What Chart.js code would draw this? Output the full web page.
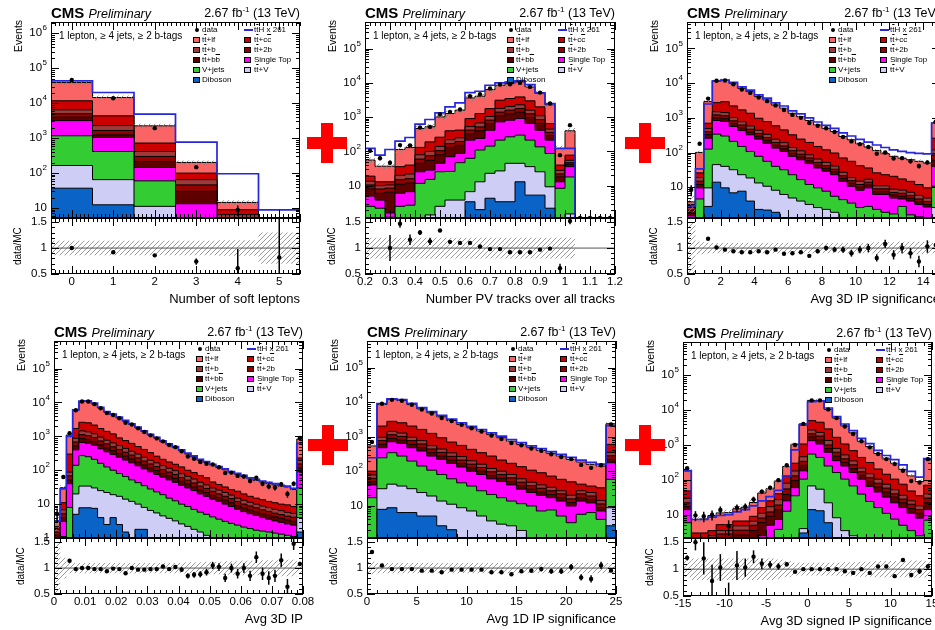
<!DOCTYPE html>
<html>
<head>
<meta charset="utf-8">
<script src="https://cdn.jsdelivr.net/npm/chart.js@4.4.1/dist/chart.umd.min.js"></script>
<style>
  html, body { margin: 0; padding: 0; background: #fff; width: 935px; height: 630px; overflow: hidden; }
  body { position: relative; font-family: "Liberation Sans", Arial, Helvetica, sans-serif; }
  canvas { position: absolute; display: block; }
  .t { position: absolute; white-space: nowrap; color: #000; line-height: 1; }
  .cms { font-weight: bold; font-size: 15px; }
  .pre { font-style: italic; font-size: 12.5px; }
  .sup { font-size: 8px; position: relative; top: -5px; }
  .ov { text-decoration: overline; }
  .vt { writing-mode: vertical-rl; transform: rotate(180deg); }
  .plus { position: absolute; background: #ff0000; }
  .leg { position: absolute; font-size: 8px; line-height: 8px; white-space: nowrap; }
  .box { position: absolute; width: 7px; height: 6px; border: 1px solid #000; box-sizing: border-box; }
</style>
</head>
<body>
<script>
// Values. Each stack array is the top edge of that
// layer in the stack (Diboson at the bottom, tt+lf on top), as drawn.

// --- Number of soft leptons ---
const softBins = [0, 1, 2, 3, 4, 5];
const softTicks = [0, 1, 2, 3, 4, 5];
const softDiboson = [37, 12.4, 1, 0, 0, 0];
const softTtV = [165, 65, 11.2, 1, 0, 0];
const softVjets = [1170, 415, 60, 3, 0, 0];
const softSingleTop = [3170, 1050, 145, 13.3, 1, 0];
const softTtbb = [3980, 1245, 215, 30, 2, 0.3];
const softTt2b = [5000, 1660, 300, 46, 3.5, 0.6];
const softTtb = [6450, 2290, 415, 65, 6.5, 1];
const softTtcc = [11700, 4350, 725, 100, 9, 2];
const softTtlf = [38900, 14500, 2250, 202, 14.5, 4];
const softTth = [43400, 20200, 4850, 770, 96, 8.9];
const softData = [46000, 13800, 1930, 148, 8.9, 2.4];
const softDataErr = [214, 117, 44, 12, 3, 1.5];
const softRatio = [1.0, 0.92, 0.86, 0.74, 0.61, 0.82];
const softRatioErr = [0.01, 0.015, 0.025, 0.06, 0.37, 0.8];
const softBand = [0.14, 0.14, 0.14, 0.14, 0.15, 0.3];

// --- Number PV tracks over all tracks ---
const pvBins = [0.22, 0.26, 0.30, 0.34, 0.38, 0.42, 0.46, 0.50, 0.54, 0.58, 0.62, 0.66, 0.70, 0.74, 0.78, 0.82, 0.86, 0.90, 0.94, 0.98, 1.02, 1.06, 1.10, 1.14, 1.18];
const pvTicks = [0.2, 0.3, 0.4, 0.5, 0.6, 0.7, 0.8, 0.9, 1, 1.1, 1.2];
const pvDiboson = [0, 0, 0, 0, 0, 0, 0, 0, 0, 0, 3.4, 2, 4.3, 3.4, 3.4, 13, 5.3, 5.3, 2.2, 0, 0, 0, 0, 0, 0];
const pvTtV = [0, 0, 0, 0, 0, 1.1, 1.4, 2.5, 3.8, 3.8, 6.7, 13, 23, 27, 45, 45, 36, 25.5, 9.3, 0, 1.5, 0, 0, 0, 0];
const pvVjets = [2.5, 2.2, 1.2, 2.5, 2.7, 11.7, 15.3, 25.5, 26, 47, 63, 110, 143, 214, 267, 300, 214, 136, 87, 8.4, 18, 0, 0, 0, 0];
const pvSingleTop = [5, 3.8, 1.6, 6, 6.7, 25.5, 28.6, 45, 70, 87, 214, 240, 417, 730, 820, 915, 655, 417, 214, 13, 36, 0, 0, 0, 0];
const pvTtbb = [8, 6, 6.5, 11, 12, 45, 55, 80, 130, 150, 330, 400, 650, 1100, 1250, 1400, 980, 650, 290, 18, 42, 0, 0, 0, 0];
const pvTt2b = [10.5, 8, 8.5, 15, 16, 60, 75, 105, 170, 195, 420, 520, 820, 1400, 1600, 1780, 1250, 850, 360, 22, 47, 0, 0, 0, 0];
const pvTtb = [13.5, 10, 10.5, 20, 22, 80, 100, 140, 220, 250, 530, 680, 1050, 1800, 2050, 2300, 1600, 1100, 450, 28, 55, 0, 0, 0, 0];
const pvTtcc = [19, 13, 13, 36, 40, 131, 190, 260, 400, 420, 910, 1280, 1780, 3130, 3500, 3900, 3000, 2000, 655, 40, 78, 0, 0, 0, 0];
const pvTtlf = [56, 37, 37, 114, 131, 468, 525, 1020, 1280, 1600, 3650, 4090, 6400, 8550, 9550, 10700, 7600, 5000, 2300, 122, 400, 0, 0, 0, 0];
const pvTth = [122, 78, 114, 200, 255, 625, 855, 1340, 2000, 2610, 5220, 5720, 8550, 10000, 10500, 11500, 8900, 5130, 2500, 122, 122, 0, 0, 0, 0];
const pvData = [105, 63, 47, 153, 150, 500, 520, 1220, 1430, 1670, 4090, 4680, 6840, 9000, 9100, 10000, 7640, 5220, 2500, 78, 585, 0, 0, 0, 0];
const pvDataErr = [10, 8, 7, 12, 12, 22, 23, 35, 38, 41, 64, 68, 83, 95, 95, 100, 87, 72, 50, 9, 24, 0, 0, 0, 0];
const pvRatio = [1.9, 1.7, 1.0, 1.47, 1.16, 1.3, 1.13, 1.34, 1.12, 1.1, 1.1, 1.03, 0.98, 0.98, 0.92, 0.92, 0.92, 0.97, 0.99, 0.61, 1.52, null, null, null, null];
const pvRatioErr = [0.25, 0.1, 0.25, 0.08, 0.1, 0.05, 0.07, 0.03, 0.03, 0.03, 0.02, 0.02, 0.015, 0.012, 0.01, 0.01, 0.012, 0.015, 0.02, 0.09, 0.06, 0, 0, 0, 0];
const pvBand = [0.2, 0.2, 0.2, 0.2, 0.2, 0.2, 0.2, 0.2, 0.2, 0.2, 0.2, 0.2, 0.2, 0.2, 0.2, 0.2, 0.2, 0.2, 0.2, 0.2, 0.2, 0, 0, 0, 0];

// --- Avg 3D IP significance ---
const sig3Bins = [0.25, 0.75, 1.25, 1.75, 2.25, 2.75, 3.25, 3.75, 4.25, 4.75, 5.25, 5.75, 6.25, 6.75, 7.25, 7.75, 8.25, 8.75, 9.25, 9.75, 10.25, 10.75, 11.25, 11.75, 12.25, 12.75, 13.25, 13.75, 14.25, 14.75];
const sig3Ticks = [0, 2, 4, 6, 8, 10, 12, 14];
const sig3Diboson = [0, 0, 2.8, 14, 9.6, 6.9, 7.7, 4, 2.3, 2.2, 1.9, 0, 0, 0, 0, 0, 0, 0, 0, 0, 0, 0, 0, 0, 0, 0, 0, 0, 0, 0.8];
const sig3TtV = [0, 0, 9.6, 45, 40, 32, 23, 18.5, 13.3, 10.7, 8.2, 6.2, 4.9, 4, 3.2, 2.6, 2.3, 1.9, 0, 0, 0, 0, 0, 0, 0, 0, 0, 0, 0, 2.6];
const sig3Vjets = [0.8, 4.6, 126, 340, 300, 210, 150, 107, 78, 56, 40, 32, 23, 16.6, 12, 9.6, 7.7, 5.5, 4.4, 3.5, 2.6, 2.8, 2.3, 1.9, 1.7, 2.8, 1.6, 1.4, 1.3, 10.7];
const sig3SingleTop = [1.5, 9.6, 260, 840, 790, 565, 430, 325, 245, 186, 135, 107, 78, 62, 48, 36, 29, 23, 14.8, 10.7, 8.2, 9.6, 6.2, 6.2, 4.9, 4.6, 4, 3.2, 2.7, 40];
const sig3Ttbb = [1.8, 12, 330, 1000, 950, 680, 520, 390, 295, 225, 162, 128, 94, 74, 58, 43, 35, 28, 18, 13, 10, 11.5, 7.5, 7.5, 6, 5.5, 4.8, 3.8, 3.2, 60];
const sig3Tt2b = [2.2, 15, 400, 1220, 1150, 820, 620, 470, 355, 270, 196, 155, 113, 90, 70, 52, 42, 33, 21.5, 15.5, 12, 14, 9, 9, 7.1, 6.7, 5.8, 4.6, 3.9, 85];
const sig3Ttb = [2.6, 19, 490, 1500, 1420, 1020, 775, 585, 440, 335, 243, 193, 140, 112, 86, 65, 52, 41, 27, 19, 15, 17, 11, 11, 8.8, 8.3, 7.2, 5.8, 4.9, 120];
const sig3Ttcc = [3.2, 26, 700, 2750, 2940, 2210, 1700, 1360, 975, 785, 590, 450, 325, 245, 196, 150, 120, 97, 70, 56, 42, 36, 26, 23, 20.7, 17.4, 14.8, 12, 9.6, 260];
const sig3Ttlf = [3.8, 101, 2940, 11800, 12300, 9890, 7100, 5700, 4100, 3290, 2360, 1900, 1360, 1090, 840, 630, 500, 405, 290, 234, 180, 145, 115, 93, 78, 69, 62, 56, 50, 735];
const sig3Tth = [2.9, 34, 2510, 11500, 12300, 10500, 7800, 6300, 4600, 3700, 2700, 2200, 1600, 1300, 1000, 760, 610, 500, 370, 300, 240, 200, 165, 140, 120, 108, 100, 95, 92, 700];
const sig3Data = [8.5, 180, 3590, 11800, 12000, 9300, 6550, 5250, 3850, 3030, 2290, 1690, 1220, 1000, 715, 590, 500, 393, 280, 210, 175, 145, 93, 100, 68, 69, 56, 41, 52, 780];
const sig3DataErr = [3, 13, 60, 109, 110, 96, 81, 72, 62, 55, 48, 41, 35, 32, 27, 24, 22, 20, 17, 14.5, 13, 12, 9.6, 10, 8.2, 8.3, 7.5, 6.4, 7.2, 28];
const sig3Ratio = [2.2, 1.78, 1.18, 1.01, 0.97, 0.94, 0.92, 0.92, 0.94, 0.92, 0.97, 0.89, 0.9, 0.92, 0.85, 0.94, 1.0, 0.97, 0.97, 0.9, 0.97, 1.0, 0.81, 1.08, 0.87, 1.0, 0.9, 0.74, 1.03, 1.06];
const sig3RatioErr = [0.3, 0.1, 0.02, 0.01, 0.01, 0.01, 0.01, 0.015, 0.015, 0.02, 0.02, 0.025, 0.03, 0.03, 0.035, 0.04, 0.045, 0.05, 0.06, 0.065, 0.07, 0.08, 0.07, 0.08, 0.09, 0.1, 0.1, 0.11, 0.12, 0.04];
const sig3Band = [0.5, 0.12, 0.1, 0.1, 0.1, 0.1, 0.1, 0.1, 0.1, 0.1, 0.1, 0.1, 0.1, 0.1, 0.1, 0.1, 0.1, 0.1, 0.1, 0.1, 0.1, 0.1, 0.11, 0.11, 0.11, 0.12, 0.12, 0.12, 0.12, 0.1];

// --- Avg 3D IP ---
const ip3Bins = [0.001, 0.003, 0.005, 0.007, 0.009, 0.011, 0.013, 0.015, 0.017, 0.019, 0.021, 0.023, 0.025, 0.027, 0.029, 0.031, 0.033, 0.035, 0.037, 0.039, 0.041, 0.043, 0.045, 0.047, 0.049, 0.051, 0.053, 0.055, 0.057, 0.059, 0.061, 0.063, 0.065, 0.067, 0.069, 0.071, 0.073, 0.075, 0.077, 0.079];
const ip3Ticks = [0, 0.01, 0.02, 0.03, 0.04, 0.05, 0.06, 0.07, 0.08];
const ip3Diboson = [0, 0, 0, 5, 7.8, 7.8, 7.5, 4, 2.5, 4, 2.5, 1.5, 0, 1.8, 1.8, 0, 0, 0, 0, 0, 0, 0, 0, 0, 0, 0, 0, 0, 0, 0, 0, 0, 0, 0, 0, 0, 0, 0, 0, 1.5];
const ip3TtV = [0, 0, 0, 20, 34, 34, 30, 25, 22, 19, 17, 14, 12, 10, 8, 6.5, 5.5, 4.5, 3.8, 3.2, 2.6, 2.2, 1.8, 1.5, 1.2, 0, 0, 0, 0, 0, 0, 0, 0, 0, 0, 0, 0, 0, 0, 4];
const ip3Vjets = [0.5, 1.1, 8, 140, 270, 250, 210, 160, 125, 100, 80, 65, 52, 43, 35, 28, 23, 19, 15, 12.5, 10, 8.5, 7, 5.8, 5, 4.2, 3.6, 3.1, 2.7, 2.4, 2.1, 1.9, 1.7, 1.6, 1.5, 1.4, 1.3, 1.2, 1.1, 30];
const ip3SingleTop = [1, 3.1, 40, 400, 660, 620, 540, 430, 350, 290, 240, 200, 165, 135, 110, 90, 75, 62, 52, 44, 36, 30, 25, 20, 17, 14, 12, 10, 8.5, 7, 6, 5.2, 4.6, 4, 3.6, 3.2, 2.9, 2.6, 2.4, 90];
const ip3Ttbb = [1.2, 4, 52, 520, 860, 800, 700, 560, 455, 380, 310, 260, 215, 175, 143, 117, 98, 80, 68, 57, 47, 39, 32, 26, 22, 18, 15.6, 13, 11, 9, 7.8, 6.8, 6, 5.2, 4.7, 4.2, 3.8, 3.4, 3.1, 117];
const ip3Tt2b = [1.5, 5.2, 68, 680, 1120, 1050, 920, 730, 600, 490, 410, 340, 280, 230, 187, 153, 128, 105, 88, 75, 61, 51, 42, 34, 29, 24, 20, 17, 14.5, 12, 10, 8.8, 7.8, 6.8, 6.1, 5.4, 4.9, 4.4, 4.1, 153];
const ip3Ttb = [1.8, 6.8, 88, 880, 1450, 1360, 1190, 950, 770, 640, 530, 440, 360, 300, 240, 198, 165, 136, 114, 97, 79, 66, 55, 44, 37, 30, 26, 22, 18.5, 15, 13, 11.4, 10, 8.8, 7.9, 7, 6.4, 5.7, 5.3, 198];
const ip3Ttcc = [2.2, 11, 300, 1700, 2600, 2500, 2150, 1700, 1400, 1180, 900, 750, 620, 500, 410, 330, 260, 210, 175, 150, 125, 100, 85, 70, 60, 45, 38, 32, 27, 24, 20, 17, 15, 13.5, 12, 11, 10, 9.5, 8.5, 230];
const ip3Ttlf = [3.1, 30.5, 1090, 6000, 10700, 10700, 9100, 6900, 5150, 4300, 3500, 2800, 2230, 1770, 1380, 1090, 890, 690, 565, 470, 375, 300, 250, 198, 169, 141, 120, 103, 85, 76, 65, 56, 50, 45, 41, 37, 34, 32, 27, 830];
const ip3Tth = [3.2, 28, 1000, 6000, 11000, 11200, 9500, 7200, 5400, 4500, 3700, 2950, 2350, 1860, 1450, 1150, 940, 730, 600, 500, 400, 320, 265, 210, 180, 150, 128, 110, 91, 81, 70, 60, 54, 48, 44, 40, 36, 34, 29, 620];
const ip3Data = [5.1, 63, 1240, 5880, 10700, 10700, 8900, 6760, 4840, 4260, 3430, 2520, 2230, 1720, 1340, 1070, 870, 710, 554, 480, 364, 255, 218, 174, 155, 148, 122, 83, 85, 68, 65, 48, 60, 40, 33, 31, 39, 20, 40, 900];
const ip3DataErr = [2.3, 8, 35, 77, 103, 103, 94, 82, 70, 65, 59, 50, 47, 41, 37, 33, 29.5, 26.6, 23.5, 21.9, 19, 16, 14.8, 13.2, 12.4, 12.2, 11, 9.1, 9.2, 8.2, 8.1, 6.9, 7.7, 6.3, 5.7, 5.6, 6.2, 4.5, 6.3, 30];
const ip3Ratio = [1.65, 2.06, 1.14, 0.98, 1.0, 1.0, 0.98, 0.98, 0.94, 0.99, 0.98, 0.9, 1.0, 0.97, 0.97, 0.98, 0.98, 1.03, 0.98, 1.02, 0.97, 0.85, 0.87, 0.88, 0.92, 1.05, 1.02, 0.81, 1.0, 0.89, 1.0, 0.85, 1.21, 0.89, 0.81, 0.85, 1.15, 0.64, 1.47, 1.08];
const ip3RatioErr = [0.05, 0.15, 0.03, 0.012, 0.01, 0.01, 0.01, 0.012, 0.014, 0.015, 0.016, 0.018, 0.02, 0.022, 0.025, 0.027, 0.03, 0.033, 0.037, 0.04, 0.045, 0.05, 0.055, 0.06, 0.065, 0.07, 0.075, 0.08, 0.085, 0.09, 0.095, 0.1, 0.11, 0.12, 0.13, 0.12, 0.13, 0.15, 0.12, 0.04];
const ip3Band = [0.5, 0.2, 0.1, 0.1, 0.1, 0.1, 0.1, 0.1, 0.1, 0.1, 0.1, 0.1, 0.1, 0.1, 0.1, 0.1, 0.1, 0.1, 0.1, 0.1, 0.1, 0.11, 0.11, 0.11, 0.12, 0.12, 0.12, 0.13, 0.13, 0.13, 0.14, 0.14, 0.14, 0.15, 0.15, 0.15, 0.16, 0.16, 0.16, 0.1];

// --- Avg 1D IP significance ---
const sig1Bins = [0.5, 1.5, 2.5, 3.5, 4.5, 5.5, 6.5, 7.5, 8.5, 9.5, 10.5, 11.5, 12.5, 13.5, 14.5, 15.5, 16.5, 17.5, 18.5, 19.5, 20.5, 21.5, 22.5, 23.5, 24.5];
const sig1Ticks = [0, 5, 10, 15, 20, 25];
const sig1Diboson = [0, 7.8, 8.7, 6.3, 6.3, 5, 5, 2.6, 2, 0, 0, 0, 0, 0, 0, 0, 0, 0, 0, 0, 0, 0, 0, 0, 2.6];
const sig1TtV = [0, 31, 42, 37, 31, 24, 19, 13.6, 11, 8.7, 7, 5, 3.6, 2.9, 2.6, 1.9, 0, 0, 0, 0, 0, 0, 0, 0, 8.7];
const sig1Vjets = [17, 245, 344, 275, 197, 141, 107, 80, 60, 46, 37, 27, 21, 17, 13.6, 11.4, 9.8, 7, 7.5, 5, 3.2, 5.6, 6.3, 4, 58];
const sig1SingleTop = [40, 480, 715, 640, 480, 385, 275, 220, 169, 132, 100, 80, 60, 50, 40, 30, 24, 20, 17, 13.6, 9.8, 13.6, 12, 7, 176];
const sig1Ttbb = [50, 600, 890, 800, 600, 480, 345, 275, 210, 165, 125, 100, 75, 62, 50, 38, 30, 25, 21, 17, 12.3, 17, 15, 8.8, 220];
const sig1Tt2b = [62, 770, 1140, 1020, 770, 615, 440, 350, 270, 210, 160, 128, 96, 80, 64, 48, 38, 32, 27, 22, 15.7, 22, 19, 11.2, 280];
const sig1Ttb = [78, 960, 1430, 1280, 960, 770, 550, 440, 340, 265, 200, 160, 120, 100, 80, 60, 48, 40, 34, 27, 20, 27, 24, 14, 350];
const sig1Ttcc = [100, 2040, 2800, 2540, 2040, 1630, 1250, 935, 700, 560, 430, 344, 275, 210, 169, 135, 107, 90, 72, 58, 49, 42, 37, 33, 600];
const sig1Ttlf = [540, 8650, 12000, 11300, 8650, 6460, 4960, 3800, 2960, 2280, 1820, 1460, 1170, 935, 745, 600, 480, 400, 330, 275, 220, 185, 158, 141, 2380];
const sig1Tth = [245, 9200, 12600, 12000, 9300, 7000, 5400, 4150, 3250, 2520, 2000, 1620, 1300, 1040, 830, 670, 540, 450, 370, 310, 250, 210, 180, 160, 2100];
const sig1Data = [700, 9080, 11760, 11070, 8480, 6140, 4710, 3500, 2870, 2210, 1770, 1420, 1080, 860, 655, 564, 456, 392, 310, 258, 224, 152, 125, 148, 2260];
const sig1DataErr = [26, 95, 108, 105, 92, 78, 69, 59, 54, 47, 42, 38, 33, 29, 26, 24, 21, 20, 18, 16, 15, 12, 11, 12, 48];
const sig1Ratio = [1.31, 1.05, 0.98, 0.98, 0.98, 0.95, 0.95, 0.92, 0.97, 0.97, 0.97, 0.97, 0.92, 0.92, 0.88, 0.94, 0.95, 0.98, 0.94, 0.94, 1.02, 0.82, 0.79, 1.05, 0.95];
const sig1RatioErr = [0.04, 0.01, 0.01, 0.01, 0.01, 0.01, 0.012, 0.015, 0.015, 0.018, 0.02, 0.022, 0.025, 0.028, 0.03, 0.035, 0.04, 0.045, 0.05, 0.055, 0.06, 0.06, 0.07, 0.07, 0.02];
const sig1Band = [0.12, 0.1, 0.1, 0.1, 0.1, 0.1, 0.1, 0.1, 0.1, 0.1, 0.1, 0.1, 0.1, 0.1, 0.1, 0.1, 0.1, 0.1, 0.1, 0.1, 0.1, 0.1, 0.1, 0.1, 0.1];

// --- Avg 3D signed IP significance ---
const ssigBins = [-14.5, -13.5, -12.5, -11.5, -10.5, -9.5, -8.5, -7.5, -6.5, -5.5, -4.5, -3.5, -2.5, -1.5, -0.5, 0.5, 1.5, 2.5, 3.5, 4.5, 5.5, 6.5, 7.5, 8.5, 9.5, 10.5, 11.5, 12.5, 13.5, 14.5];
const ssigTicks = [-15, -10, -5, 0, 5, 10, 15];
const ssigDiboson = [0, 0, 0, 0, 0, 0, 0, 0, 0, 0, 0, 0, 0, 0, 3, 14, 13, 5.9, 0, 0, 0, 0, 0, 0, 0, 0, 0, 0, 0, 0];
const ssigTtV = [0, 0, 0, 0, 0, 0, 0, 0, 0, 0, 0, 0, 0, 2.2, 4, 67, 54, 22, 8.2, 3.5, 2.5, 0, 0, 0, 0, 0, 0, 0, 0, 0];
const ssigVjets = [5.9, 0.3, 0.2, 0.2, 0.3, 0.3, 0.4, 0.4, 0.6, 1, 2, 3.8, 12.6, 35, 105, 550, 440, 250, 162, 105, 67, 39, 24, 16, 11, 7.5, 5, 3.5, 2.5, 7];
const ssigSingleTop = [14, 0.5, 0.4, 0.5, 0.8, 0.8, 1, 1, 1.5, 2.5, 5, 7.3, 25, 60, 182, 1330, 1070, 620, 355, 250, 162, 105, 65, 45, 32, 22, 16, 11, 8, 14];
const ssigTtbb = [17, 1.4, 1.2, 1.5, 2.2, 2.2, 2.6, 2.6, 3.5, 6, 9, 14, 38, 95, 260, 1700, 1400, 800, 480, 320, 210, 135, 90, 62, 45, 32, 22, 15, 11, 22];
const ssigTt2b = [22, 1.8, 1.6, 2, 2.8, 2.8, 3.6, 3.6, 5, 8, 12, 19, 55, 130, 340, 2100, 1800, 1000, 620, 400, 270, 170, 115, 80, 58, 40, 28, 20, 14, 30];
const ssigTtb = [30, 2.2, 2, 2.5, 3.5, 3.5, 4.8, 4.8, 6.5, 11, 17, 27, 80, 180, 460, 2700, 2300, 1350, 800, 520, 350, 220, 150, 105, 75, 52, 36, 25, 18, 40];
const ssigTtcc = [48, 3, 3, 3.5, 5.2, 5.2, 6.6, 6.6, 9, 16, 25, 40, 130, 300, 1070, 5000, 4500, 2900, 1660, 1070, 690, 440, 315, 205, 145, 105, 75, 48, 35, 70];
const ssigTtlf = [180, 7.3, 7.6, 9.5, 11.3, 11.5, 14.8, 16.5, 22.4, 42, 55.6, 93, 241, 1050, 4040, 19000, 19000, 10500, 5900, 3530, 2230, 1280, 900, 570, 400, 300, 200, 130, 90, 375];
const ssigTth = [185, 7.3, 7.3, 8.5, 9.5, 10, 12, 14, 18, 25, 33, 50, 130, 720, 3700, 17500, 18500, 11500, 6500, 4000, 2600, 1550, 1100, 700, 500, 380, 270, 175, 120, 410];
const ssigData = [217, 9.6, 9.1, 10, 13.6, 4.7, 15.8, 17, 27.6, 46, 60, 98, 263, 1000, 4040, 19000, 19000, 10500, 5900, 3390, 2070, 1280, 857, 550, 394, 283, 182, 93, 84, 394];
const ssigDataErr = [15, 3.1, 3, 3.2, 3.7, 2.2, 4, 4.1, 5.3, 6.8, 7.7, 10, 16, 32, 64, 138, 138, 102, 77, 58, 45, 36, 29, 23, 20, 17, 13.5, 9.6, 9.2, 20];
const ssigRatio = [1.21, 1.5, 1.2, 0.78, 1.03, 0.45, 1.07, 1.03, 1.23, 1.1, 1.08, 1.05, 1.09, 0.95, 1.0, 1.0, 1.0, 1.0, 1.0, 0.96, 0.93, 1.0, 0.93, 1.05, 1.05, 0.87, 1.17, 0.89, 0.96, 1.05];
const ssigRatioErr = [0.05, 0.15, 0.3, 0.3, 0.25, 0.3, 0.27, 0.17, 0.12, 0.1, 0.07, 0.06, 0.04, 0.02, 0.01, 0.01, 0.01, 0.01, 0.01, 0.015, 0.02, 0.02, 0.025, 0.025, 0.03, 0.03, 0.035, 0.04, 0.05, 0.04];
const ssigBand = [0.15, 0.2, 0.2, 0.2, 0.2, 0.2, 0.2, 0.2, 0.2, 0.2, 0.2, 0.18, 0.15, 0.12, 0.12, 0.12, 0.12, 0.12, 0.12, 0.13, 0.13, 0.14, 0.14, 0.15, 0.15, 0.15, 0.15, 0.16, 0.16, 0.15];

const logTicks = [1, 10, 100, 1e3, 1e4, 1e5, 1e6];
const ratioTicks = [0.5, 1, 1.5];

// ---- styling and layout ----
const FONT = '"Liberation Sans", Arial, Helvetica, sans-serif';
Chart.defaults.font.family = FONT;

// bottom -> top of the stack
const layerColours = ['#0a64c8', '#cdcdf5', '#33cc33', '#ff00ff', '#5e0000', '#950000', '#a03a3a', '#cc0000', '#fa6464'];

const panels = [
  { L: 51, R: 300, T: 22, M: 218, B: 274, xmin: -0.5, xmax: 5.5, minorDiv: 10, ymin: 5.2, ymax: 2.1e6,
    title: 'Number of soft leptons', bins: softBins, ticks: softTicks,
    stack: [softDiboson, softTtV, softVjets, softSingleTop, softTtbb, softTt2b, softTtb, softTtcc, softTtlf],
    tth: softTth, data: softData, dataErr: softDataErr, ratio: softRatio, err: softRatioErr, band: softBand },
  { L: 365, R: 615, T: 22, M: 218, B: 274, xmin: 0.2, xmax: 1.2, minorDiv: 5, ymin: 1.14, ymax: 6e5,
    title: 'Number PV tracks over all tracks', bins: pvBins, ticks: pvTicks,
    stack: [pvDiboson, pvTtV, pvVjets, pvSingleTop, pvTtbb, pvTt2b, pvTtb, pvTtcc, pvTtlf],
    tth: pvTth, data: pvData, dataErr: pvDataErr, ratio: pvRatio, err: pvRatioErr, band: pvBand },
  { L: 687, R: 940, T: 22, M: 218, B: 274, xmin: 0, xmax: 15, minorDiv: 4, ymin: 1.3, ymax: 5.8e5,
    title: 'Avg 3D IP significance', bins: sig3Bins, ticks: sig3Ticks,
    stack: [sig3Diboson, sig3TtV, sig3Vjets, sig3SingleTop, sig3Ttbb, sig3Tt2b, sig3Ttb, sig3Ttcc, sig3Ttlf],
    tth: sig3Tth, data: sig3Data, dataErr: sig3DataErr, ratio: sig3Ratio, err: sig3RatioErr, band: sig3Band },
  { L: 54, R: 303, T: 341, M: 538, B: 594, xmin: 0, xmax: 0.08, minorDiv: 5, ymin: 1, ymax: 6.5e5,
    title: 'Avg 3D IP', bins: ip3Bins, ticks: ip3Ticks,
    stack: [ip3Diboson, ip3TtV, ip3Vjets, ip3SingleTop, ip3Ttbb, ip3Tt2b, ip3Ttb, ip3Ttcc, ip3Ttlf],
    tth: ip3Tth, data: ip3Data, dataErr: ip3DataErr, ratio: ip3Ratio, err: ip3RatioErr, band: ip3Band },
  { L: 367, R: 616, T: 341, M: 538, B: 594, xmin: 0, xmax: 25, minorDiv: 5, ymin: 1.15, ymax: 6e5,
    title: 'Avg 1D IP significance', bins: sig1Bins, ticks: sig1Ticks,
    stack: [sig1Diboson, sig1TtV, sig1Vjets, sig1SingleTop, sig1Ttbb, sig1Tt2b, sig1Ttb, sig1Ttcc, sig1Ttlf],
    tth: sig1Tth, data: sig1Data, dataErr: sig1DataErr, ratio: sig1Ratio, err: sig1RatioErr, band: sig1Band },
  { L: 683, R: 932, T: 342, M: 538, B: 596, xmin: -15, xmax: 15, minorDiv: 5, ymin: 2.15, ymax: 9e5,
    title: 'Avg 3D signed IP significance', bins: ssigBins, ticks: ssigTicks,
    stack: [ssigDiboson, ssigTtV, ssigVjets, ssigSingleTop, ssigTtbb, ssigTt2b, ssigTtb, ssigTtcc, ssigTtlf],
    tth: ssigTth, data: ssigData, dataErr: ssigDataErr, ratio: ssigRatio, err: ssigRatioErr, band: ssigBand }
];

const PL = 50, PR = 14;

// grey "////" hatching for the MC uncertainty band
const hatch = (function () {
  const c = document.createElement('canvas');
  c.width = 5; c.height = 5;
  const g = c.getContext('2d');
  g.strokeStyle = '#808080';
  g.lineWidth = 0.8;
  g.beginPath();
  g.moveTo(0, 5); g.lineTo(5, 0);
  g.moveTo(-2.5, 2.5); g.lineTo(2.5, -2.5);
  g.moveTo(2.5, 7.5); g.lineTo(7.5, 2.5);
  g.stroke();
  return g.createPattern(c, 'repeat');
})();

// histogram outline: one point per left bin edge plus the last right edge
function stepPoints(bins, vals, floor) {
  const w = bins[1] - bins[0];
  const pts = bins.map((c, i) => ({ x: c - w / 2, y: vals[i] > 0 ? vals[i] : floor }));
  pts.push({ x: bins[bins.length - 1] + w / 2, y: pts[pts.length - 1].y });
  return pts;
}

function xMarks(p) {
  const t0 = p.ticks[0], step = (p.ticks[1] - p.ticks[0]) / p.minorDiv;
  const out = [];
  for (let k = Math.ceil((p.xmin - t0) / step - 1e-6); t0 + k * step <= p.xmax + 1e-9; k++) {
    out.push({ v: t0 + k * step, major: k % p.minorDiv === 0 });
  }
  return out;
}

function logMarks(lo, hi) {
  const out = [];
  for (let e = Math.floor(Math.log10(lo)); e <= Math.ceil(Math.log10(hi)); e++) {
    for (let k = 1; k < 10; k++) {
      const v = k * Math.pow(10, e);
      if (v >= lo * 0.999 && v <= hi) out.push({ v: v, major: k === 1 });
    }
  }
  return out;
}

const ratioMarks = [];
for (let k = 5; k <= 15; k++) ratioMarks.push({ v: k / 10, major: k % 5 === 0 });

// ROOT-like frame: box, inward ticks on all four sides, tick labels
function framePlugin(o) {
  return {
    id: 'frame',
    afterDatasetsDraw(chart) {
      const ctx = chart.ctx, a = chart.chartArea;
      const xs = chart.scales.x, ys = chart.scales.y;
      ctx.save();
      ctx.strokeStyle = '#000';
      ctx.lineWidth = 1;
      ctx.beginPath();
      o.xMarks.forEach(m => {
        const px = Math.round(xs.getPixelForValue(m.v)) + 0.5;
        const len = m.major ? o.tick : o.tick / 2;
        ctx.moveTo(px, a.bottom); ctx.lineTo(px, a.bottom - len);
        ctx.moveTo(px, a.top); ctx.lineTo(px, a.top + len);
      });
      o.yMarks.forEach(m => {
        const py = Math.round(ys.getPixelForValue(m.v)) + 0.5;
        const len = m.major ? o.tick : o.tick / 2;
        ctx.moveTo(a.left, py); ctx.lineTo(a.left + len, py);
        ctx.moveTo(a.right, py); ctx.lineTo(a.right - len, py);
      });
      ctx.stroke();
      ctx.strokeRect(a.left + 0.5, a.top + 0.5, a.right - a.left - 1, a.bottom - a.top - 1);

      ctx.fillStyle = '#000';
      ctx.textAlign = 'right';
      ctx.textBaseline = 'middle';
      o.yLabels.forEach(v => {
        const py = ys.getPixelForValue(v);
        ctx.font = '11.5px ' + FONT;
        if (o.log) {
          const e = Math.round(Math.log10(v));
          if (e >= 2) {
            ctx.font = '8px ' + FONT;
            const ew = ctx.measureText(String(e)).width;
            ctx.fillText(String(e), a.left - 4, py - 5);
            ctx.font = '11.5px ' + FONT;
            ctx.fillText('10', a.left - 4 - ew - 0.5, py);
          } else {
            ctx.fillText(e === 1 ? '10' : '1', a.left - 4, py);
          }
        } else {
          ctx.fillText(String(v), a.left - 4, py);
        }
      });
      if (o.xLabels) {
        ctx.textAlign = 'center';
        ctx.textBaseline = 'top';
        ctx.font = '11.5px ' + FONT;
        o.xLabels.forEach(v => ctx.fillText(String(+v.toFixed(4)), xs.getPixelForValue(v), a.bottom + 2));
      }
      ctx.restore();
    }
  };
}

function makeCanvas(left, top, w, h) {
  const c = document.createElement('canvas');
  c.width = w; c.height = h;
  c.style.left = left + 'px';
  c.style.top = top + 'px';
  c.style.width = w + 'px';
  c.style.height = h + 'px';
  document.body.appendChild(c);
  return c;
}

function addDiv(cls, html, style) {
  const d = document.createElement('div');
  d.className = cls;
  d.innerHTML = html;
  Object.assign(d.style, style);
  document.body.appendChild(d);
  return d;
}

const baseOptions = {
  responsive: false,
  animation: false,
  events: [],
  devicePixelRatio: 1,
  plugins: { legend: { display: false }, tooltip: { enabled: false } }
};

panels.forEach(p => {
  const w = p.R - p.L + PL + PR;
  const marks = xMarks(p);
  const total = p.stack[p.stack.length - 1];
  const hasData = p.bins.map((c, i) => i).filter(i => p.data[i] > 0);

  // main pad
  const mainSets = [
    { data: p.bins.map((c, i) => ({ x: c, y: p.data[i] > 0 ? p.data[i] : p.ymin })), showLine: false,
      pointRadius: 2.2, pointBackgroundColor: '#000', pointBorderWidth: 0, order: 0 },
    { type: 'bar', data: hasData.map(i => ({ x: p.bins[i], y: [p.data[i] - p.dataErr[i], p.data[i] + p.dataErr[i]] })),
      backgroundColor: '#000', grouped: false, maxBarThickness: 1.5, order: 0.5 },
    { data: stepPoints(p.bins, p.tth, 1e-3), stepped: true, borderColor: '#2626dc', borderWidth: 1.7,
      pointRadius: 0, fill: false, order: 1 },
    { data: stepPoints(p.bins, total.map((v, i) => v * (1 + p.band[i])), 1e-3), stepped: true,
      borderColor: 'rgba(0,0,0,0)', backgroundColor: hatch, fill: '+1', pointRadius: 0, order: 1.2 },
    { data: stepPoints(p.bins, total.map((v, i) => v * (1 - p.band[i])), 1e-3), stepped: true,
      borderColor: 'rgba(0,0,0,0)', fill: false, pointRadius: 0, order: 1.3 }
  ];
  p.stack.forEach((arr, i) => mainSets.push({
    data: stepPoints(p.bins, arr, 1e-3), stepped: true, borderColor: '#000', borderWidth: 1,
    backgroundColor: layerColours[i], fill: 'start', pointRadius: 0, order: 2 + i
  }));
  new Chart(makeCanvas(p.L - PL, p.T - 4, w, p.M - p.T + 8), {
    type: 'line',
    data: { datasets: mainSets },
    options: Object.assign({}, baseOptions, {
      layout: { padding: { left: PL, right: PR, top: 4, bottom: 4 } },
      scales: {
        x: { type: 'linear', min: p.xmin, max: p.xmax, offset: false, display: false },
        y: { type: 'logarithmic', min: p.ymin, max: p.ymax, display: false }
      }
    }),
    plugins: [framePlugin({ tick: 8, log: true, xMarks: marks, yMarks: logMarks(p.ymin, p.ymax),
      yLabels: logTicks.filter(v => v >= p.ymin * 0.999 && v <= p.ymax) })]
  });

  // ratio pad
  const idx = p.bins.map((c, i) => i).filter(i => p.ratio[i] != null);
  const ratioSets = [
    { data: idx.map(i => ({ x: p.bins[i], y: p.ratio[i] })), showLine: false,
      pointRadius: 2.2, pointBackgroundColor: '#000', pointBorderWidth: 0, order: 0 },
    { type: 'bar', data: idx.map(i => ({ x: p.bins[i], y: [p.ratio[i] - p.err[i], p.ratio[i] + p.err[i]] })),
      backgroundColor: '#000', grouped: false, maxBarThickness: 1.5, order: 1 },
    { data: [{ x: p.xmin, y: 1 }, { x: p.xmax, y: 1 }], borderColor: '#555', borderWidth: 1,
      pointRadius: 0, fill: false, order: 2 },
    { data: stepPoints(p.bins, p.band.map(b => 1 + b), 1), stepped: true, borderColor: 'rgba(0,0,0,0)',
      backgroundColor: hatch, fill: '+1', pointRadius: 0, order: 3 },
    { data: stepPoints(p.bins, p.band.map(b => 1 - b), 1), stepped: true, borderColor: 'rgba(0,0,0,0)',
      fill: false, pointRadius: 0, order: 4 }
  ];
  new Chart(makeCanvas(p.L - PL, p.M - 4, w, p.B - p.M + 24), {
    type: 'line',
    data: { datasets: ratioSets },
    options: Object.assign({}, baseOptions, {
      layout: { padding: { left: PL, right: PR, top: 4, bottom: 20 } },
      scales: {
        x: { type: 'linear', min: p.xmin, max: p.xmax, offset: false, display: false },
        y: { type: 'linear', min: 0.5, max: 1.58, display: false }
      }
    }),
    plugins: [framePlugin({ tick: 8, log: false, xMarks: marks, yMarks: ratioMarks,
      yLabels: ratioTicks, xLabels: p.ticks })]
  });

  // texts
  addDiv('t', '<span class="cms">CMS</span> <span class="pre">Preliminary</span>',
    { left: p.L + 'px', top: (p.T - 17) + 'px', fontSize: '15px' });
  addDiv('t', '2.67 fb<span class="sup">-1</span> (13 TeV)',
    { right: (935 - p.R) + 'px', top: (p.T - 15) + 'px', fontSize: '12.5px' });
  addDiv('t', '1 lepton, \u2265 4 jets, \u2265 2 b-tags',
    { left: (p.L + 8) + 'px', top: (p.T + 9) + 'px', fontSize: '10px' });
  addDiv('t vt', 'Events',
    { left: (p.L - 38) + 'px', top: (p.T - 2) + 'px', height: '60px', fontSize: '10.5px', textAlign: 'end' });
  addDiv('t vt', 'data/MC',
    { left: (p.L - 38) + 'px', top: p.M + 'px', height: (p.B - p.M) + 'px', fontSize: '10px', textAlign: 'center' });
  addDiv('t', p.title,
    { right: (935 - p.R) + 'px', top: (p.B + 18) + 'px', fontSize: '13px' });

  // legend
  const tt = 't<span class="ov">t</span>';
  const legend = [
    [0, 0, 'data', 'dot'], [1, 0, tt + 'H x  261', 'line'],
    [0, 1, tt + '+lf', 8], [1, 1, tt + '+c<span class="ov">c</span>', 7],
    [0, 2, tt + '+b', 6], [1, 2, tt + '+2b', 5],
    [0, 3, tt + '+b<span class="ov">b</span>', 4], [1, 3, 'Single Top', 3],
    [0, 4, 'V+jets', 2], [1, 4, tt + '+V', 1],
    [0, 5, 'Diboson', 0]
  ];
  legend.forEach(([col, row, html, kind]) => {
    const bx = p.L + (col ? 193 : 142);
    const cy = p.T + 8 + row * 10;
    if (kind === 'dot') {
      addDiv('box', '', { left: (bx + 1.5) + 'px', top: (cy - 2) + 'px', width: '4px', height: '4px',
        borderRadius: '2px', background: '#000', border: 'none' });
    } else if (kind === 'line') {
      addDiv('box', '', { left: bx + 'px', top: (cy - 1) + 'px', width: '9px', height: '2px',
        background: '#2626dc', border: 'none' });
    } else {
      addDiv('box', '', { left: bx + 'px', top: (cy - 3) + 'px', background: layerColours[kind] });
    }
    addDiv('leg', html, { left: (bx + (col ? 10 : 9)) + 'px', top: (cy - 4) + 'px' });
  });
});

// red plus signs between the panels
[[327, 143], [645, 143], [328, 445], [645, 445]].forEach(([cx, cy]) => {
  addDiv('plus', '', { left: (cx - 20) + 'px', top: (cy - 6) + 'px', width: '40px', height: '12px' });
  addDiv('plus', '', { left: (cx - 6) + 'px', top: (cy - 20) + 'px', width: '12px', height: '40px' });
});
</script>
</body>
</html>
